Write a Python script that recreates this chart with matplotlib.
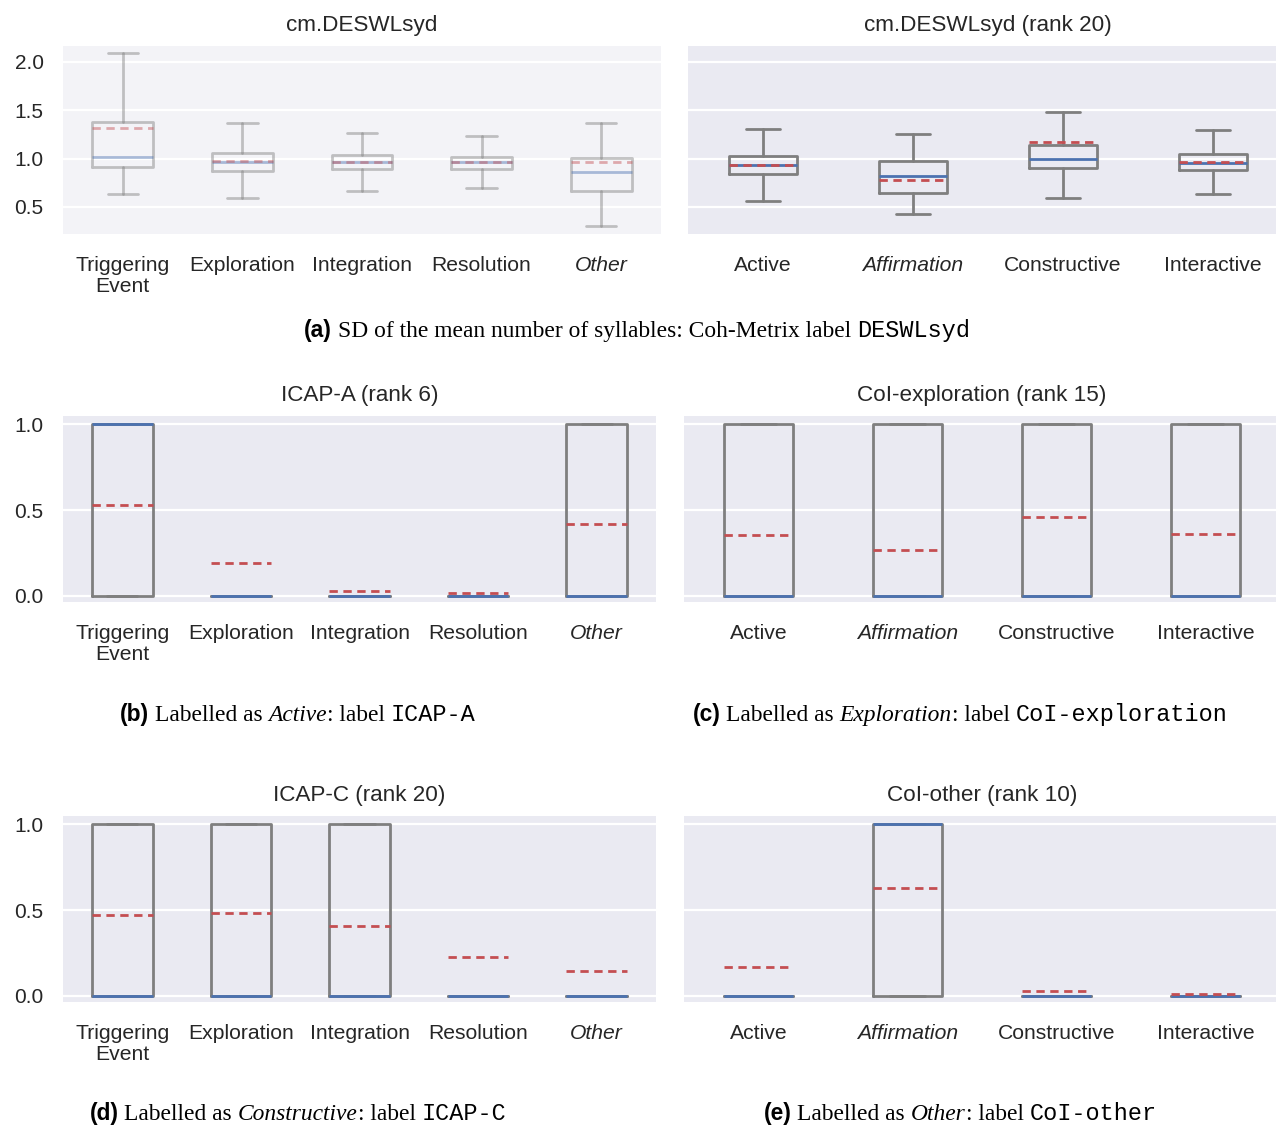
import numpy as np
import matplotlib
matplotlib.use("Agg")
import matplotlib.pyplot as plt
import seaborn as sns

sns.set_style("darkgrid")
plt.rcParams['font.family'] = ['Liberation Sans', 'DejaVu Sans']

# ---- data ----
coi_cats = ["Triggering\nEvent", "Exploration", "Integration", "Resolution", "Other"]
icap_cats = ["Active", "Affirmation", "Constructive", "Interactive"]
italic_cats = ["Other", "Affirmation"]

# (a) left: cm.DESWLsyd per CoI phase
a1_whislo = [0.63, 0.59, 0.67, 0.70, 0.30]
a1_q1 = [0.91, 0.87, 0.89, 0.89, 0.66]
a1_med = [1.02, 0.96, 0.965, 0.96, 0.86]
a1_q3 = [1.38, 1.06, 1.04, 1.02, 1.01]
a1_whishi = [2.09, 1.37, 1.27, 1.23, 1.37]
a1_mean = [1.32, 0.98, 0.97, 0.97, 0.97]

# (a) right: cm.DESWLsyd per ICAP class
a2_whislo = [0.56, 0.43, 0.59, 0.63]
a2_q1 = [0.84, 0.64, 0.90, 0.88]
a2_med = [0.93, 0.82, 1.00, 0.95]
a2_q3 = [1.03, 0.98, 1.14, 1.05]
a2_whishi = [1.31, 1.25, 1.48, 1.30]
a2_mean = [0.93, 0.78, 1.17, 0.97]

# (b) ICAP-A
b_q1 = [0, 0, 0, 0, 0]
b_med = [1, 0, 0, 0, 0]
b_q3 = [1, 0, 0, 0, 1]
b_mean = [0.53, 0.19, 0.03, 0.017, 0.42]

# (c) CoI-exploration
c_q1 = [0, 0, 0, 0]
c_med = [0, 0, 0, 0]
c_q3 = [1, 1, 1, 1]
c_mean = [0.355, 0.27, 0.46, 0.36]

# (d) ICAP-C
d_q1 = [0, 0, 0, 0, 0]
d_med = [0, 0, 0, 0, 0]
d_q3 = [1, 1, 1, 0, 0]
d_mean = [0.47, 0.48, 0.41, 0.227, 0.145]

# (e) CoI-other
e_q1 = [0, 0, 0, 0]
e_med = [0, 1, 0, 0]
e_q3 = [0, 1, 0, 0]
e_mean = [0.17, 0.63, 0.03, 0.012]

GRAY = "#7f7f7f"
BLUE = "#4c72b0"
RED = "#c44e52"
TXT = "#262626"
W, H = 1276, 1126

fig = plt.figure(figsize=(W / 100, H / 100), dpi=100)


def px_axes(x0, y0, x1, y1):
    return fig.add_axes([x0 / W, 1 - y1 / H, (x1 - x0) / W, (y1 - y0) / H])


def make_stats(whislo, q1, med, q3, whishi, mean):
    return [dict(whislo=a, q1=b, med=c, q3=d, whishi=e, mean=f, fliers=[])
            for a, b, c, d, e, f in zip(whislo, q1, med, q3, whishi, mean)]


def draw(ax, stats, cats, width, ylim, yticks, title, labels=True, alpha=1.0):
    pos = np.arange(len(cats))
    ax.bxp(stats, positions=pos, widths=width, showmeans=True, meanline=True,
           showfliers=False, manage_ticks=False,
           boxprops=dict(color=GRAY, lw=2.0, alpha=alpha),
           whiskerprops=dict(color=GRAY, lw=2.0, alpha=alpha),
           capprops=dict(color=GRAY, lw=2.0, alpha=alpha),
           medianprops=dict(color=BLUE, lw=2.0, alpha=alpha),
           meanprops=dict(color=RED, lw=2.0, ls=(0, (3, 2)), alpha=alpha))
    ax.set_xlim(-0.5, len(cats) - 0.5)
    ax.set_ylim(*ylim)
    ax.set_xticks(pos)
    ax.set_xticklabels(cats, fontsize=15.2, color=TXT, linespacing=1.15)
    for t in ax.get_xticklabels():
        if t.get_text() in italic_cats:
            t.set_style("italic")
    ax.set_yticks(yticks)
    if labels:
        ax.set_yticklabels([f"{v:.1f}" for v in yticks], fontsize=15.0, color=TXT)
    else:
        ax.set_yticklabels([])
    ax.tick_params(axis="y", length=0, pad=14)
    ax.tick_params(axis="x", length=0, pad=16)
    ax.grid(False, axis="x")
    ax.grid(True, axis="y", color="white", lw=1.6)
    ax.set_title(title, fontsize=16.2, color=TXT, pad=11)
    for s in ax.spines.values():
        s.set_visible(False)


top_ylim = (0.22, 2.165)
top_ticks = [0.5, 1.0, 1.5, 2.0]
unit_ylim = (-0.035, 1.047)
unit_ticks = [0.0, 0.5, 1.0]

ax = px_axes(63, 46, 661, 234)
ax.set_facecolor("#f3f3f7")
draw(ax, make_stats(a1_whislo, a1_q1, a1_med, a1_q3, a1_whishi, a1_mean),
     coi_cats, 0.51, top_ylim, top_ticks, "cm.DESWLsyd", alpha=0.45)

ax = px_axes(688, 46, 1288, 234)
draw(ax, make_stats(a2_whislo, a2_q1, a2_med, a2_q3, a2_whishi, a2_mean),
     icap_cats, 0.45, top_ylim, top_ticks, "cm.DESWLsyd (rank 20)", labels=False)

ax = px_axes(63, 416, 656, 602)
draw(ax, make_stats(b_q1, b_q1, b_med, b_q3, b_q3, b_mean),
     coi_cats, 0.51, unit_ylim, unit_ticks, "ICAP-A (rank 6)")

ax = px_axes(684, 416, 1280, 602)
draw(ax, make_stats(c_q1, c_q1, c_med, c_q3, c_q3, c_mean),
     icap_cats, 0.46, unit_ylim, unit_ticks, "CoI-exploration (rank 15)", labels=False)

ax = px_axes(63, 816, 656, 1002)
draw(ax, make_stats(d_q1, d_q1, d_med, d_q3, d_q3, d_mean),
     coi_cats, 0.51, unit_ylim, unit_ticks, "ICAP-C (rank 20)")

ax = px_axes(684, 816, 1280, 1002)
draw(ax, make_stats(e_q1, e_q1, e_med, e_q3, e_q3, e_mean),
     icap_cats, 0.46, unit_ylim, unit_ticks, "CoI-other (rank 10)", labels=False)

# ---- mixed-font captions ----
CAP = 16.9
styles = {
    "tag": dict(family="Liberation Sans", weight="bold", size=CAP * 0.97),
    "rm": dict(family="Liberation Serif", size=CAP),
    "it": dict(family="Liberation Serif", style="italic", size=CAP),
    "tt": dict(family=["Liberation Mono", "DejaVu Sans Mono"], size=CAP),
}
renderer = fig.canvas.get_renderer()
probe1 = fig.text(0, 0, "x x", **styles["rm"])
probe2 = fig.text(0, 0, "xx", **styles["rm"])
SPACE = (probe1.get_window_extent(renderer).width
         - probe2.get_window_extent(renderer).width)
probe1.remove()
probe2.remove()


def caption(xc, ybase, parts):
    # parts: (text, style, space_after)
    items = []
    total = 0
    for s, st, sp in parts:
        t = fig.text(0, 1 - ybase / H, s, va="baseline", ha="left", color="black",
                     **styles[st])
        w = t.get_window_extent(renderer).width
        items.append((t, w, sp))
        total += w + (SPACE if sp else 0)
    x = xc - total / 2
    for t, w, sp in items:
        t.set_x(x / W)
        x += w + (SPACE if sp else 0)


caption(637, 337, [("(a)", "tag", True),
                   ("SD of the mean number of syllables: Coh-Metrix label", "rm", True),
                   ("DESWLsyd", "tt", False)])
caption(298, 721, [("(b)", "tag", True), ("Labelled as", "rm", True),
                   ("Active", "it", False), (": label", "rm", True),
                   ("ICAP-A", "tt", False)])
caption(960, 721, [("(c)", "tag", True), ("Labelled as", "rm", True),
                   ("Exploration", "it", False), (": label", "rm", True),
                   ("CoI-exploration", "tt", False)])
caption(298, 1120, [("(d)", "tag", True), ("Labelled as", "rm", True),
                    ("Constructive", "it", False), (": label", "rm", True),
                    ("ICAP-C", "tt", False)])
caption(960, 1120, [("(e)", "tag", True), ("Labelled as", "rm", True),
                    ("Other", "it", False), (": label", "rm", True),
                    ("CoI-other", "tt", False)])

fig.savefig("out.png", dpi=100)
